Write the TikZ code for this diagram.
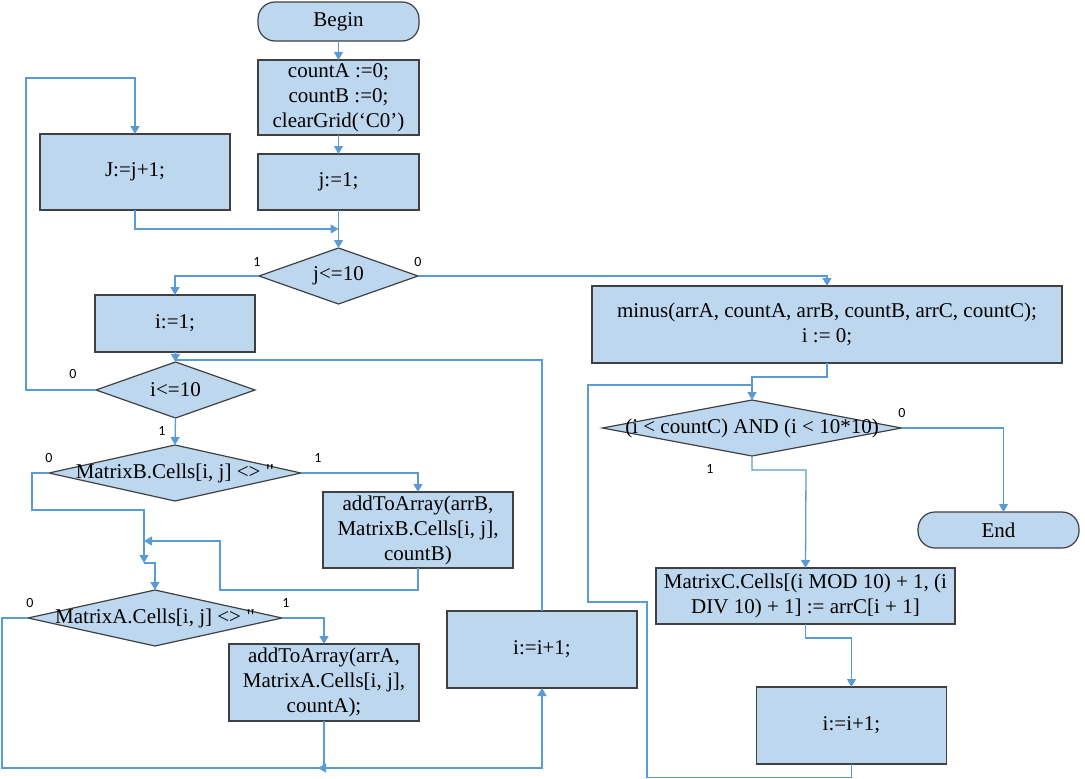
\documentclass[tikz,border=0pt]{standalone}
\usepackage{fontspec}
\setmainfont{Liberation Serif}
\newfontfamily\lblfont{Carlito}
\usetikzlibrary{shapes.geometric,arrows.meta}
\definecolor{linec}{RGB}{91,155,213}
\definecolor{fillc}{RGB}{189,215,238}
\definecolor{bordc}{RGB}{64,64,64}
\begin{document}
\begin{tikzpicture}[x=1pt,y=-1pt,
 every node/.style={inner sep=0pt, outer sep=0pt},
 box/.style={draw=bordc, fill=fillc, line width=1.2pt, align=center, font=\fontsize{21}{25}\selectfont},
 term/.style={box, rounded corners=17pt},
 dia/.style={draw=bordc, fill=fillc, line width=1.2pt, shape=diamond},
 dtext/.style={font=\fontsize{21}{25}\selectfont},
 conn/.style={draw=linec, line width=1.3pt},
 arr/.style={conn, -{Triangle[width=9pt,length=8pt]}},
 lbl/.style={font=\lblfont\fontsize{14}{14}\selectfont}
]
\useasboundingbox (0,0) rectangle (1085,779);

% nodes
\node[term, minimum width=161, minimum height=39] (begin) at (338.5,21.5) {Begin};
\node[box, minimum width=161, minimum height=75] (init) at (338.5,97.5) {countA :=0;\\countB :=0;\\clearGrid(‘C0’)};
\node[box, minimum width=161, minimum height=56] (j1) at (338.5,182) {j:=1;};
\node[box, minimum width=190, minimum height=76] (jinc) at (135,172) {J:=j+1;};
\node[dia, minimum width=159, minimum height=56] (jdia) at (338.5,276) {};
\node[dtext] (jdiat) at (jdia) {j<=10};
\node[box, minimum width=160, minimum height=57] (i1) at (175,323.5) {i:=1;};
\node[dia, minimum width=159, minimum height=56] (idia) at (175.5,390) {};
\node[dtext] (idiat) at (idia) {i<=10};
\node[dia, minimum width=252, minimum height=56] (mb) at (175,473) {};
\node[dtext] (mbt) at (mb) {MatrixB.Cells[i, j] <> \textquotedbl};
\node[box, minimum width=190, minimum height=76] (addb) at (418,530) {addToArray(arrB,\\MatrixB.Cells[i, j],\\countB)};
\node[dia, minimum width=254, minimum height=56] (ma) at (155,618) {};
\node[dtext] (mat) at (ma) {MatrixA.Cells[i, j] <> \textquotedbl};
\node[box, minimum width=190, minimum height=77] (adda) at (324,682.5) {addToArray(arrA,\\MatrixA.Cells[i, j],\\countA);};
\node[box, minimum width=190, minimum height=77] (iinc) at (542,649.5) {i:=i+1;};
\node[box, minimum width=470, minimum height=77] (minus) at (827,324.5) {minus(arrA, countA, arrB, countB, arrC, countC);\\i := 0;};
\node[dia, minimum width=299, minimum height=56] (cdia) at (752,428) {};
\node[dtext] (cdiat) at (cdia) {(i < countC) AND (i < 10*10)};
\node[term, minimum width=161, minimum height=36] (endn) at (998.5,530) {End};
\node[box, minimum width=299, minimum height=56] (mc) at (805.5,596) {MatrixC.Cells[(i MOD 10) + 1, (i\\DIV 10) + 1] := arrC[i + 1]};
\node[box, minimum width=190, minimum height=77] (iinc2) at (851.5,725.5) {i:=i+1;};

% labels
\node[lbl] (l1) at (257,262) {1};
\node[lbl] (l2) at (418,262) {0};
\node[lbl] (l3) at (73,374) {0};
\node[lbl] (l4) at (162,431) {1};
\node[lbl] (l5) at (49,458) {0};
\node[lbl] (l6) at (318,458) {1};
\node[lbl] (l7) at (30,603) {0};
\node[lbl] (l8) at (286,603) {1};
\node[lbl] (l9) at (902,413) {0};
\node[lbl] (l10) at (710,469) {1};

% join coordinates
\coordinate (jm) at (338.5,229);
\coordinate (ij) at (175,360);
\coordinate (mj) at (144,563);
\coordinate (bj) at (144,541);
\coordinate (aj) at (318,768);
\coordinate (cj) at (752,385);

% connectors
\draw[arr] (begin) -- (init);
\draw[arr] (init) -- (j1);
\draw[arr] (j1) -- (jdia.north);
\draw[arr] (jinc.south) |- (jm);
\draw[arr] (jdia.west) -| (i1.north);
\draw[arr] (i1) -- (idia.north);
\draw[arr] (idia.west) -| (26,78) -| (jinc.north);
\draw[arr] (idia.south) -- (mb.north);
\draw[arr] (mb.east) -| (addb.north);
\draw[arr] (mb.west) -| (32,510) -| (mj);
\draw[arr] (addb.south) |- (220,590) |- (bj);
\draw[arr] (mj) -| (ma.north);
\draw[arr] (ma.east) -| (adda.north);
\draw[arr] (ma.west) -| (2,768) -| (iinc.south);
\draw[arr] (adda.south) |- (aj);
\draw[conn] (iinc.north) |- (ij);
\draw[arr] (jdia.east) -| (minus.north);
\draw[arr] (minus.south) |- (752,377) -- (cdia.north);
\draw[arr] (cdia.east) -| ([xshift=5pt]endn.north);
\draw[arr] (cdia.south) |- (806,470) -- (mc.north);
\draw[arr] (mc.south) |- (851.5,638) -- (iinc2.north);
\draw[conn] (iinc2.south) |- (647,777.5) |- (588,602) |- (cj);
\end{tikzpicture}
\end{document}
